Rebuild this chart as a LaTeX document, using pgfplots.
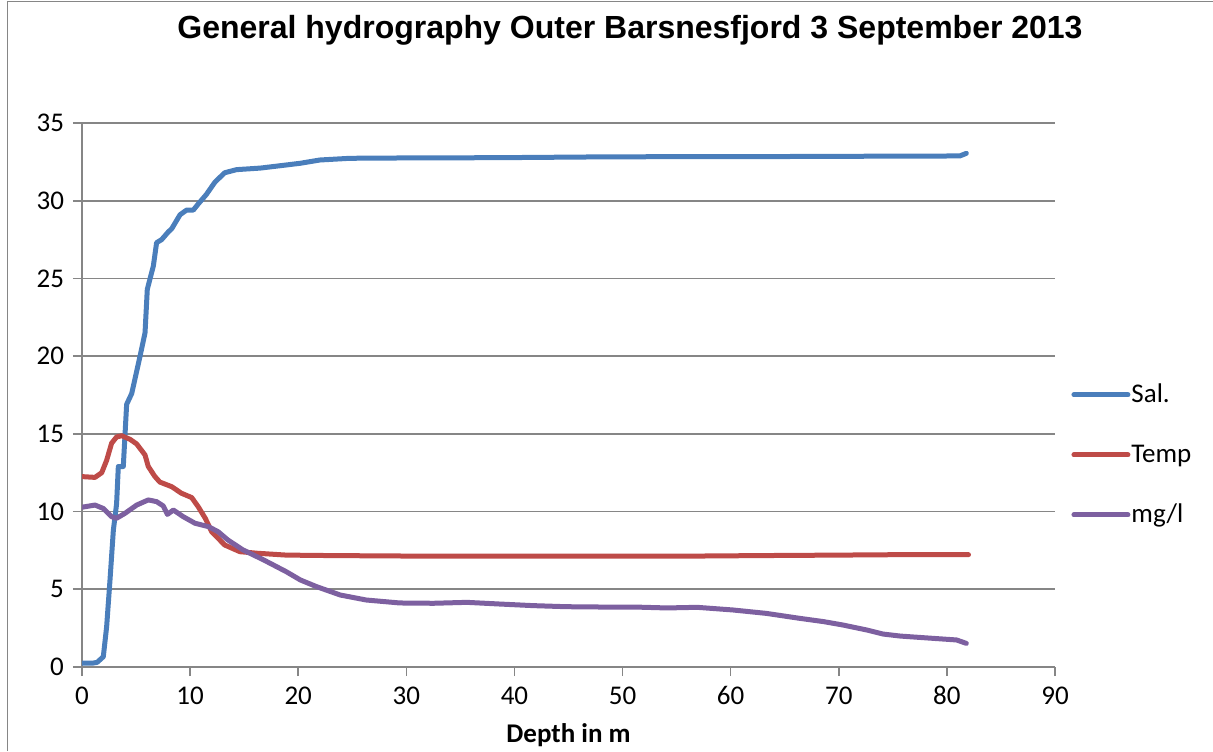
\documentclass[border=0pt]{standalone}
\usepackage{fontspec}
\setmainfont{Carlito}
\newfontfamily\titlefont{Liberation Sans}
\usepackage{pgfplots}
\pgfplotsset{compat=1.18}

\definecolor{salblue}{RGB}{74,126,187}
\definecolor{tempred}{RGB}{190,75,72}
\definecolor{mgpurple}{RGB}{125,96,160}
\definecolor{gridgray}{RGB}{134,134,134}

\begin{document}
\begin{tikzpicture}
% frame (only left and top visible in the reference)
\useasboundingbox (0,0) rectangle (606.5pt,375.5pt);
\draw[gridgray, line width=0.7pt] (3.75pt,0) -- (3.75pt,374.6pt) -- (606.5pt,374.6pt);

\node[font=\titlefont\bfseries\fontsize{16}{18}\selectfont] at (315pt,360.5pt)
  {General hydrography Outer Barsnesfjord 3 September 2013};

\begin{axis}[
  at={(41pt,42pt)}, anchor=south west,
  scale only axis,
  width=486.5pt, height=272pt,
  xmin=0, xmax=90, ymin=0, ymax=35,
  xtick={0,10,...,90}, ytick={0,5,...,35},
  axis lines=left,
  axis line style={-, gridgray, line width=0.8pt},
  ymajorgrids,
  grid style={gridgray, line width=0.8pt},
  tick style={gridgray, line width=0.8pt},
  tick align=outside,
  major tick length=4.5pt,
  tick label style={font=\fontsize{13.5}{15}\selectfont},
  yticklabel style={xshift=-1pt},
  xticklabel style={yshift=-1pt, text height=9.5pt, text depth=0pt},
  /pgf/number format/assume math mode=true,
  xlabel={\textbf{Depth in m}},
  xlabel style={font=\fontsize{13.5}{15}\selectfont, at={(axis description cs:0.5,-0.125)}, anchor=center},
  legend style={draw=none, fill=none, at={(1.0165,0.39)}, anchor=west,
    font=\fontsize{13.5}{15}\selectfont, row sep=18.5pt, inner sep=0pt,
    nodes={inner sep=0.5pt}},
  legend cell align=left,
  legend image code/.code={\draw[#1, line cap=round] (0pt,0pt) -- (27pt,0pt);},
  every axis plot/.append style={line width=2.5pt, line join=round, line cap=round},
]
\addplot[salblue] coordinates {
(0,0.25) (1.0,0.25) (1.4,0.3) (1.97,0.66) (2.28,2.6) (2.59,5.6) (2.9,8.8)
(3.2,10.5) (3.36,12.9) (3.82,12.9) (4.13,16.9) (4.6,17.6) (5.37,20) (5.83,21.5)
(6.04,24.3) (6.6,25.8) (6.9,27.3) (7.37,27.5) (7.99,28.0) (8.3,28.2) (9.07,29.1)
(9.68,29.4) (10.3,29.4) (10.76,29.8) (11.5,30.4) (12.3,31.2) (13.2,31.8)
(14.3,32.0) (16.5,32.1) (18.9,32.3) (20.2,32.41) (22,32.62) (24.8,32.73)
(29.4,32.75) (38.7,32.77) (47.9,32.82) (57.2,32.84) (63.3,32.84) (71.7,32.86)
(81.2,32.88) (81.8,33.05)
};
\addlegendentry{Sal.}
\addplot[tempred] coordinates {
(0,12.25) (1.2,12.2) (1.82,12.5) (2.28,13.3) (2.74,14.4) (3.2,14.8) (3.67,14.88)
(4.44,14.65) (5.06,14.35) (5.83,13.64) (6.13,12.9) (6.75,12.25) (7.2,11.9)
(8.3,11.6) (9.2,11.18) (10.15,10.9) (10.76,10.3) (11.4,9.57) (12.0,8.7)
(13.2,7.85) (14.6,7.42) (16.2,7.32) (18.9,7.2) (22.9,7.17) (30,7.14) (40,7.14)
(50,7.14) (57.2,7.14) (63,7.17) (70,7.2) (76,7.23) (82,7.23)
};
\addlegendentry{Temp}
\addplot[mgpurple] coordinates {
(0,10.28) (1.2,10.42) (1.97,10.2) (2.74,9.67) (3.2,9.57) (3.98,9.89) (5.06,10.42)
(6.13,10.75) (6.9,10.64) (7.52,10.36) (7.9,9.82) (8.45,10.1) (9.37,9.67)
(10.45,9.25) (11.7,9.03) (12.6,8.7) (13.5,8.17) (14.9,7.53) (16.8,6.89)
(18.9,6.13) (20.2,5.6) (21.7,5.17) (23.9,4.63) (26.3,4.31) (29.4,4.12)
(32.5,4.1) (35.6,4.16) (38.7,4.05) (41.7,3.95) (44.8,3.88) (47.9,3.86)
(51,3.86) (54.1,3.8) (56.9,3.84) (60.2,3.67) (63.3,3.45) (66.4,3.13)
(68.6,2.92) (70.4,2.7) (72.6,2.38) (74.1,2.12) (75.7,1.99) (78.8,1.84)
(80.9,1.74) (81.8,1.52)
};
\addlegendentry{mg/l}
\end{axis}
\end{tikzpicture}
\end{document}
